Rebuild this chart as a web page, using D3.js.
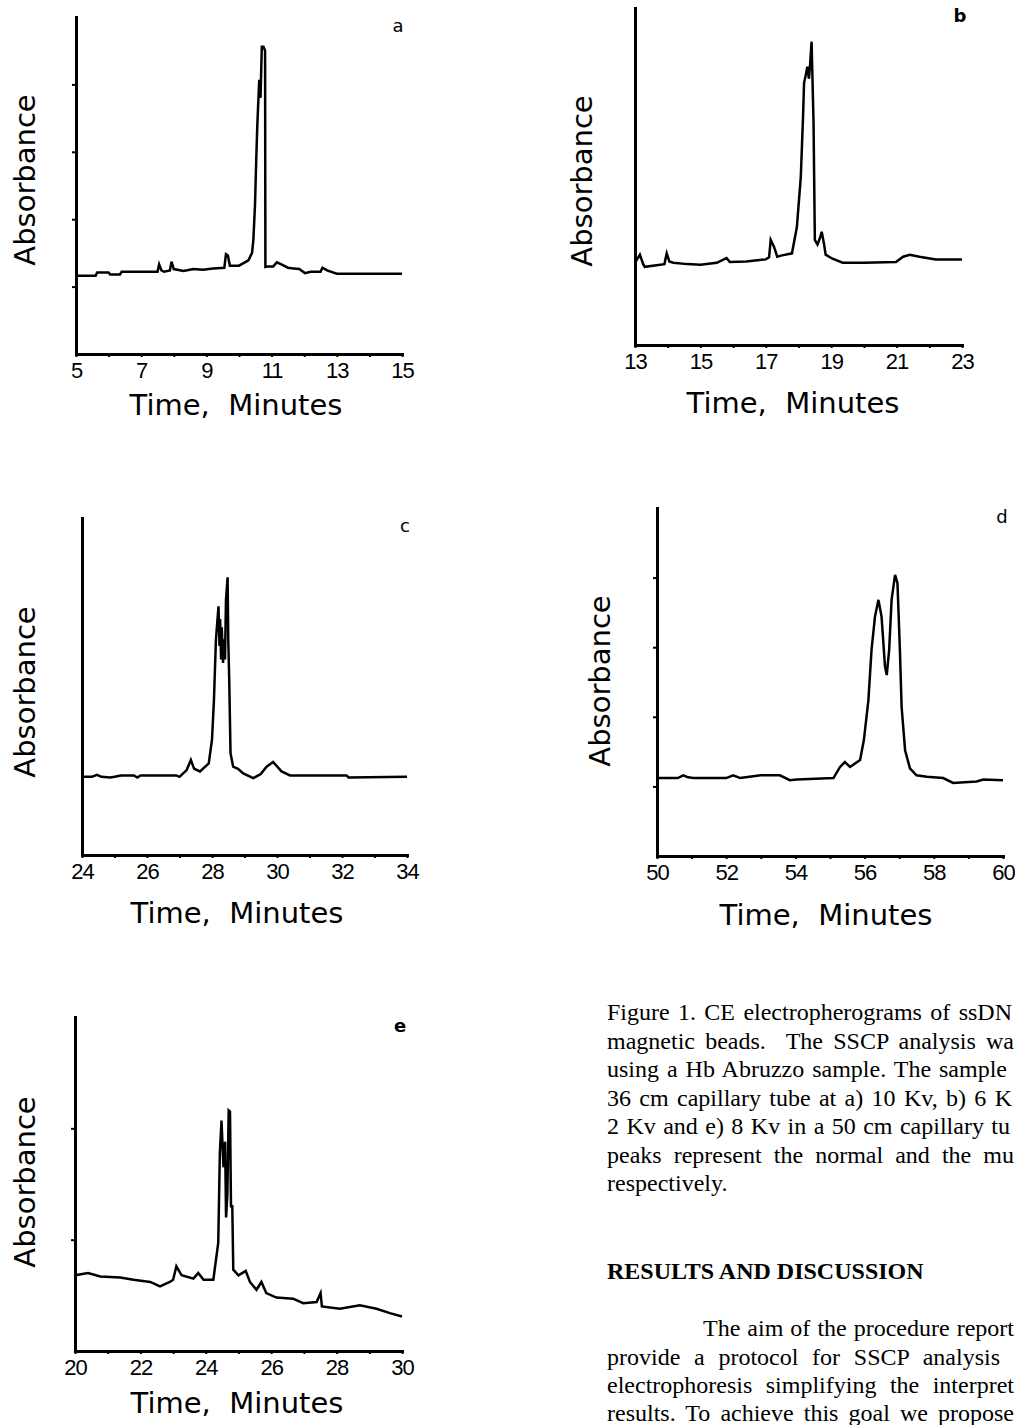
<!DOCTYPE html>
<html>
<head>
<meta charset="utf-8">
<script src="https://cdn.jsdelivr.net/npm/d3@7"></script>
<style>
  body { margin: 0; background: #fff; }
  svg { display: block; }
</style>
</head>
<body>
<div id="chart"></div>
<script>
// values (absorbance in arbitrary units)
var timeA = [5.0, 5.6, 5.65, 6.0, 6.05, 6.35, 6.4, 7.5, 7.55, 7.62, 7.7, 7.88, 7.93, 8.0, 8.3, 8.6, 8.9, 9.2, 9.55, 9.6, 9.66, 9.72, 10.0, 10.29, 10.4, 10.44, 10.49, 10.53, 10.56, 10.62, 10.66, 10.7, 10.75, 10.8, 10.81, 10.9, 11.05, 11.16, 11.3, 11.5, 11.67, 11.85, 12.02, 12.2, 12.5, 12.56, 12.7, 13.0, 15.0];
var absA = [1.16, 1.16, 1.21, 1.21, 1.18, 1.18, 1.22, 1.22, 1.33, 1.24, 1.22, 1.24, 1.37, 1.26, 1.23, 1.26, 1.25, 1.27, 1.28, 1.48, 1.46, 1.31, 1.31, 1.39, 1.5, 1.69, 2.2, 2.9, 3.37, 4.07, 3.8, 4.56, 4.56, 4.5, 1.29, 1.3, 1.3, 1.36, 1.33, 1.28, 1.27, 1.26, 1.2, 1.22, 1.22, 1.28, 1.24, 1.19, 1.19];

var timeB = [13.0, 13.1, 13.15, 13.25, 13.3, 13.9, 13.97, 14.05, 14.17, 14.6, 15.0, 15.5, 15.8, 15.9, 16.4, 17.0, 17.1, 17.15, 17.25, 17.35, 17.5, 17.8, 17.95, 18.07, 18.14, 18.17, 18.22, 18.27, 18.32, 18.36, 18.4, 18.43, 18.46, 18.5, 18.58, 18.65, 18.71, 18.78, 18.83, 19.04, 19.35, 20.0, 20.98, 21.2, 21.4, 21.7, 22.2, 22.4, 23.0];
var absB = [1.22, 1.3, 1.34, 1.2, 1.16, 1.2, 1.36, 1.24, 1.22, 1.2, 1.19, 1.22, 1.29, 1.23, 1.24, 1.27, 1.3, 1.56, 1.46, 1.31, 1.33, 1.36, 1.75, 2.49, 3.4, 3.89, 4.0, 4.13, 3.95, 4.2, 4.5, 3.9, 3.3, 1.56, 1.49, 1.58, 1.68, 1.5, 1.34, 1.28, 1.22, 1.22, 1.23, 1.31, 1.34, 1.31, 1.27, 1.27, 1.27];

var timeC = [24.0, 24.3, 24.46, 24.6, 24.87, 25.0, 25.2, 25.6, 25.7, 25.8, 26.5, 26.9, 27.0, 27.22, 27.35, 27.45, 27.63, 27.9, 28.0, 28.06, 28.12, 28.2, 28.23, 28.25, 28.28, 28.3, 28.34, 28.37, 28.4, 28.43, 28.48, 28.5, 28.53, 28.57, 28.65, 28.8, 28.96, 29.27, 29.5, 29.68, 29.88, 30.14, 30.4, 32.14, 32.2, 34.0];
var absC = [1.16, 1.16, 1.19, 1.16, 1.15, 1.16, 1.18, 1.18, 1.15, 1.18, 1.18, 1.18, 1.16, 1.26, 1.41, 1.28, 1.24, 1.36, 1.71, 2.3, 3.19, 3.69, 3.1, 3.5, 2.9, 3.38, 2.85, 3.2, 2.9, 3.78, 4.12, 3.2, 2.6, 1.51, 1.31, 1.28, 1.21, 1.14, 1.2, 1.31, 1.38, 1.24, 1.18, 1.18, 1.15, 1.16];

var timeD = [50.0, 50.6, 50.76, 50.9, 51.05, 52.0, 52.2, 52.3, 52.4, 53.0, 53.55, 53.84, 54.04, 55.1, 55.29, 55.43, 55.58, 55.87, 55.98, 56.11, 56.2, 56.3, 56.4, 56.49, 56.59, 56.64, 56.71, 56.78, 56.88, 56.95, 57.02, 57.07, 57.17, 57.31, 57.5, 57.8, 58.27, 58.56, 59.24, 59.43, 60.0];
var absD = [1.12, 1.12, 1.16, 1.13, 1.12, 1.12, 1.16, 1.14, 1.12, 1.16, 1.16, 1.09, 1.1, 1.12, 1.28, 1.35, 1.28, 1.38, 1.67, 2.24, 2.96, 3.44, 3.68, 3.44, 2.72, 2.6, 2.96, 3.68, 4.04, 3.92, 2.96, 2.14, 1.52, 1.26, 1.16, 1.14, 1.12, 1.05, 1.07, 1.1, 1.09];

var timeE = [20.0, 20.4, 20.77, 21.38, 21.79, 22.3, 22.6, 22.9, 23.0, 23.1, 23.26, 23.62, 23.77, 23.93, 24.23, 24.38, 24.43, 24.48, 24.54, 24.59, 24.62, 24.66, 24.7, 24.74, 24.77, 24.81, 24.84, 25.0, 25.22, 25.35, 25.55, 25.7, 25.85, 26.16, 26.67, 26.98, 27.39, 27.51, 27.55, 28.1, 28.71, 29.22, 29.63, 30.0];
var absE = [0.68, 0.70, 0.67, 0.66, 0.64, 0.62, 0.58, 0.62, 0.64, 0.76, 0.68, 0.65, 0.70, 0.64, 0.64, 0.97, 1.78, 2.07, 1.65, 1.88, 1.2, 1.41, 2.16, 2.15, 1.3, 1.3, 0.73, 0.68, 0.72, 0.62, 0.55, 0.62, 0.52, 0.48, 0.47, 0.43, 0.44, 0.52, 0.40, 0.38, 0.41, 0.38, 0.34, 0.31];

// tick labels
var labelsA = [5, 7, 9, 11, 13, 15];
var labelsB = [13, 15, 17, 19, 21, 23];
var labelsC = [24, 26, 28, 30, 32, 34];
var labelsD = [50, 52, 54, 56, 58, 60];
var labelsE = [20, 22, 24, 26, 28, 30];
var yTicksA = [1, 2, 3, 4];
var yTicksB = [];
var yTicksC = [];
var yTicksD = [1, 2, 3, 4];
var yTicksE = [1, 2];

// layout of the five panels on the page
var panels = [
    {tag: "a", time: timeA, abs: absA, labels: labelsA, yTicks: yTicksA, xDom: [5, 15], yDom: [0, 5],
     left: 76, right: 402, top: 17, bottom: 354, titleX: 236, titleY: 405, absX: 25, absY: 180, tagX: 398, tagY: 32, bold: false},
    {tag: "b", time: timeB, abs: absB, labels: labelsB, yTicks: yTicksB, xDom: [13, 23], yDom: [0, 5],
     left: 635, right: 962, top: 8, bottom: 345, titleX: 793, titleY: 403, absX: 582, absY: 181, tagX: 960, tagY: 22, bold: true},
    {tag: "c", time: timeC, abs: absC, labels: labelsC, yTicks: yTicksC, xDom: [24, 34], yDom: [0, 5],
     left: 82, right: 407, top: 518, bottom: 855, titleX: 237, titleY: 913, absX: 25, absY: 692, tagX: 405, tagY: 532, bold: false},
    {tag: "d", time: timeD, abs: absD, labels: labelsD, yTicks: yTicksD, xDom: [50, 60], yDom: [0, 5],
     left: 657, right: 1003, top: 508, bottom: 856, titleX: 826, titleY: 915, absX: 600, absY: 681, tagX: 1002, tagY: 523, bold: false},
    {tag: "e", time: timeE, abs: absE, labels: labelsE, yTicks: yTicksE, xDom: [20, 30], yDom: [0, 3],
     left: 75, right: 402, top: 1017, bottom: 1351, titleX: 237, titleY: 1403, absX: 25, absY: 1182, tagX: 400, tagY: 1032, bold: true}
];

var width = 1015, height = 1425;
var sansFont = "'DejaVu Sans', Verdana, sans-serif";
var tickFont = "'Liberation Sans', Arial, sans-serif";
var serifFont = "'Liberation Serif', 'Times New Roman', serif";

var svg = d3.select("#chart")
    .append("svg")
    .attr("width", width)
    .attr("height", height);

panels.forEach(function (p) {
    var x = d3.scaleLinear().domain(p.xDom).range([p.left, p.right]);
    var y = d3.scaleLinear().domain(p.yDom).range([p.bottom, p.top]);
    var g = svg.append("g").attr("class", "panel-" + p.tag);

    var pts = p.time.map(function (t, i) { return [t, p.abs[i]]; });

    //x axis, a small tick at every minute, a label every two
    var xAxis = d3.axisBottom(x)
        .tickValues(d3.range(p.xDom[0], p.xDom[1] + 1))
        .tickSize(3)
        .tickSizeOuter(0)
        .tickPadding(5)
        .tickFormat(function (d) { return p.labels.indexOf(d) >= 0 ? d : ""; });
    var gx = g.append("g")
        .attr("transform", "translate(0," + p.bottom + ")")
        .call(xAxis);
    gx.select(".domain").attr("stroke-width", 3).attr("stroke-linecap", "square");
    gx.selectAll(".tick line").attr("stroke-width", 2);
    gx.selectAll(".tick text")
        .attr("font-family", tickFont)
        .attr("font-size", "22px")
        .attr("letter-spacing", "-1px")
        .attr("fill", "#000");

    var yAxis = d3.axisLeft(y)
        .tickValues(p.yTicks)
        .tickSize(4)
        .tickSizeOuter(0)
        .tickFormat("");
    var gy = g.append("g")
        .attr("transform", "translate(" + p.left + ",0)")
        .call(yAxis);
    gy.select(".domain").attr("stroke-width", 3).attr("stroke-linecap", "square");
    gy.selectAll(".tick line").attr("stroke-width", 2);

    //trace
    g.append("path")
        .datum(pts)
        .attr("d", d3.line()
            .x(function (d) { return x(d[0]); })
            .y(function (d) { return y(d[1]); }))
        .attr("fill", "none")
        .attr("stroke", "#000")
        .attr("stroke-width", 2.5)
        .attr("stroke-linejoin", "miter");

    g.append("text")
        .attr("x", p.titleX)
        .attr("y", p.titleY)
        .attr("text-anchor", "middle")
        .attr("dominant-baseline", "central")
        .attr("font-family", sansFont)
        .attr("font-size", "29px")
        .style("white-space", "pre")
        .text("Time,  Minutes");

    g.append("text")
        .attr("transform", "translate(" + p.absX + "," + p.absY + ") rotate(-90)")
        .attr("text-anchor", "middle")
        .attr("dominant-baseline", "central")
        .attr("font-family", sansFont)
        .attr("font-size", "29px")
        .text("Absorbance");

    g.append("text")
        .attr("x", p.tagX)
        .attr("y", p.tagY)
        .attr("text-anchor", "middle")
        .attr("font-family", sansFont)
        .attr("font-size", "18px")
        .attr("font-weight", p.bold ? "bold" : "normal")
        .text(p.tag);
});

//caption and text on the right: the page edge cuts the justified lines,
//so only the part that shows is kept, stretched to where it ends
var textLines = [
    {text: "Figure 1. CE electropherograms of ssDN", x: 607, end: 1012, y: 1020},
    {text: "magnetic beads.  The SSCP analysis wa", x: 607, end: 1014, y: 1048.5},
    {text: "using a Hb Abruzzo sample. The sample", x: 607, end: 1007, y: 1077},
    {text: "36 cm capillary tube at a) 10 Kv, b) 6 K", x: 607, end: 1012, y: 1105.5},
    {text: "2 Kv and e) 8 Kv in a 50 cm capillary tu", x: 607, end: 1010, y: 1134},
    {text: "peaks represent the normal and the mu", x: 607, end: 1014, y: 1162.5},
    {text: "respectively.", x: 607, end: null, y: 1191},
    {text: "RESULTS AND DISCUSSION", x: 607, end: null, y: 1279, bold: true},
    {text: "The aim of the procedure report", x: 703, end: 1014, y: 1336},
    {text: "provide a protocol for SSCP analysis", x: 607, end: 1000, y: 1365},
    {text: "electrophoresis simplifying the interpret", x: 607, end: 1014, y: 1393},
    {text: "results. To achieve this goal we propose", x: 607, end: 1014, y: 1421}
];

textLines.forEach(function (l) {
    var t = svg.append("text")
        .attr("x", l.x)
        .attr("y", l.y)
        .attr("font-family", serifFont)
        .attr("font-size", "24px")
        .attr("font-weight", l.bold ? "bold" : "normal")
        .attr("fill", "#000")
        .style("white-space", "pre")
        .text(l.text);
    if (l.end) {
        var w = t.node().getComputedTextLength();
        var spaces = (l.text.match(/ /g) || []).length;
        var extra = (l.end - l.x - w) / spaces;
        if (extra > 0) t.attr("word-spacing", extra);
    }
});
</script>
</body>
</html>
